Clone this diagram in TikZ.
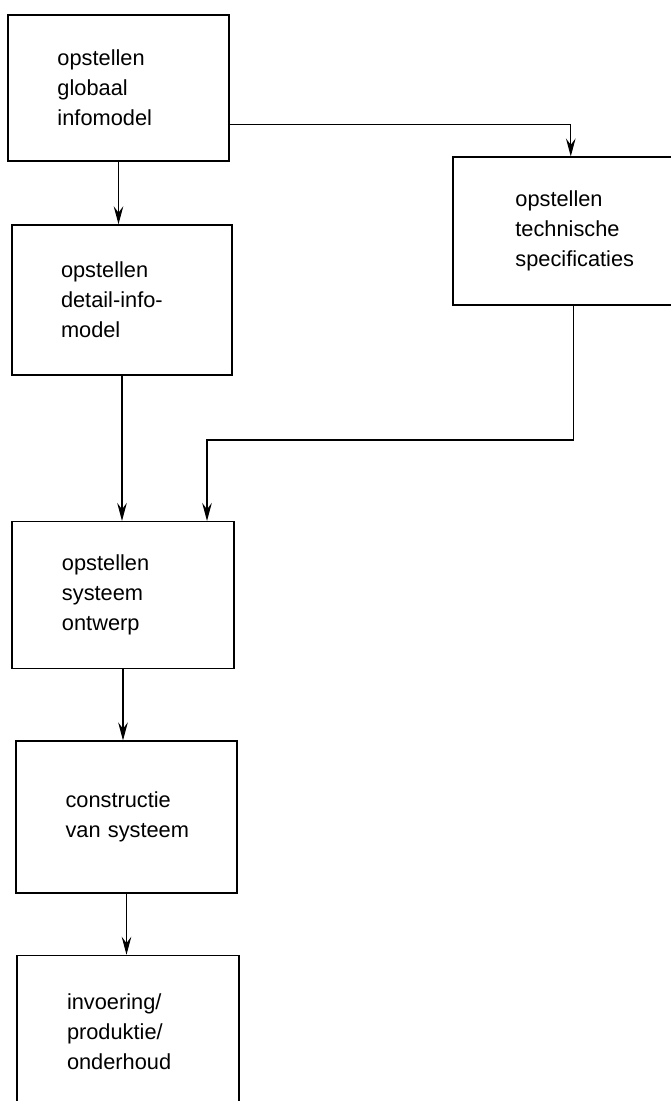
\documentclass[tikz,border=0pt]{standalone}
\usepackage{fontspec}
\setmainfont{Liberation Sans}
\usetikzlibrary{arrows.meta,
	calc,
	positioning}

\begin{document}
\begin{tikzpicture}[
		box/.style={draw, line width=1.1pt, rectangle, text width=3.05cm, align=left, font=\fontsize{15.5}{21.3}\selectfont},
		pijl/.style={line width=0.8pt, -{Stealth[length=4.5mm, width=2.4mm, inset=1.6mm]}}]
	\clip (0,0) rectangle (16.775,-27.525);
	\node[box, minimum width=5.525cm, minimum height=3.65cm] (glob) at (2.9625,-2.2) {opstellen\\globaal\\infomodel};
	\node[box, minimum width=6.175cm, minimum height=3.7cm] (techn) at (14.41,-5.78) {opstellen\\technische\\specificaties};
	\node[box, minimum width=5.5cm, minimum height=3.75cm] (detail) at (3.05,-7.5) {opstellen\\detail-info-\\model};
	\node[box, minimum width=5.55cm, minimum height=3.675cm] (systeem) at (3.075,-14.88) {opstellen\\systeem\\ontwerp};
	\node[box, minimum width=5.525cm, minimum height=3.8cm] (bouw) at (3.1625,-20.43) {constructie\\\mbox{van systeem}};
	\node[box, minimum width=5.55cm, minimum height=3.825cm] (invoer) at (3.2,-25.8) {invoering/\\produktie/\\onderhoud};
	\coordinate (knik) at (5.175,-11.0);

	\draw[pijl] (glob.south) -- (glob.south |- detail.north);
	\draw[pijl] ([yshift=0.925cm]glob.south east) -| ([xshift=-4pt]techn.north);
	\draw[pijl] (detail.south) -- (detail.south |- systeem.north);
	\draw[pijl] ([xshift=-2pt]techn.south) |- (knik) -- (knik |- systeem.north);
	\draw[pijl] (systeem.south) -- (systeem.south |- bouw.north);
	\draw[pijl] (bouw.south) -- (bouw.south |- invoer.north);
\end{tikzpicture}
\end{document}
